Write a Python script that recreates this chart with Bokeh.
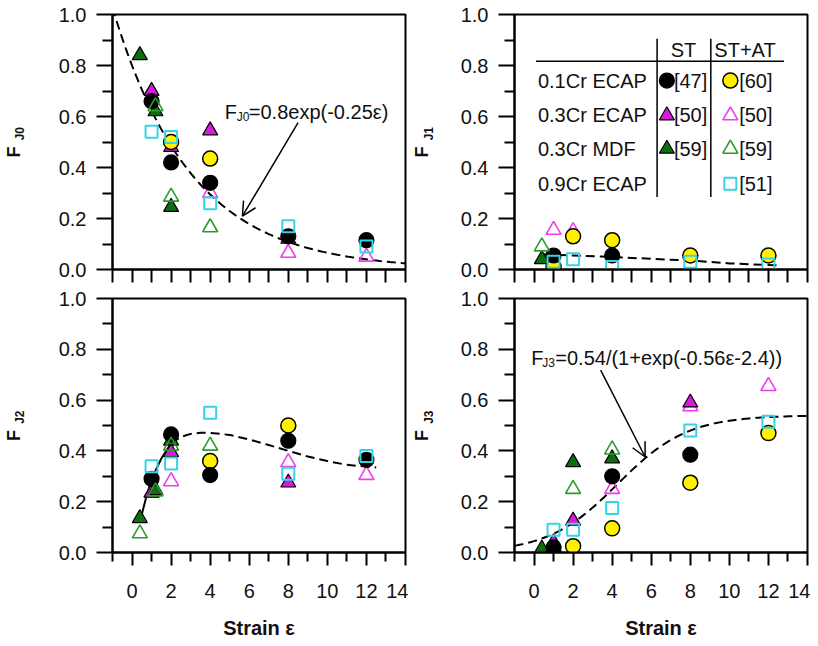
import math
import numpy as np
from bokeh.plotting import figure
from bokeh.layouts import column, row
from bokeh.models import FixedTicker, Label, Arrow, OpenHead, NumeralTickFormatter, LinearAxis
from bokeh.embed import file_html
from bokeh.resources import INLINE

FONT = "Liberation Sans"
NA = float("nan")   # value hidden behind other markers in the reference
NBSP = "\u00a0"

# ---------------- data ----------------
x_ticks = [0, 2, 4, 6, 8, 10, 12, 14]
x_minor = [-1, 1, 3, 5, 7, 9, 11, 13]
y_ticks = [0.0, 0.2, 0.4, 0.6, 0.8, 1.0]
y_minor = [0.1, 0.3, 0.5, 0.7, 0.9]

strain_47 = [1, 2, 4, 8, 12]      # 0.1Cr ECAP ST
strain_60 = [1, 2, 4, 8, 12]      # 0.1Cr ECAP ST+AT
strain_50_st = [1, 2, 4, 8]       # 0.3Cr ECAP ST
strain_50_at = [1, 2, 4, 8, 12]   # 0.3Cr ECAP ST+AT
strain_59 = [0.4, 1.2, 2, 4]      # 0.3Cr MDF
strain_51 = [1, 2, 4, 8, 12]      # 0.9Cr ECAP ST+AT

fj0_47 = [0.66, 0.42, 0.34, 0.13, 0.115]
fj1_47 = [0.055, NA, 0.055, NA, NA]
fj2_47 = [0.29, 0.465, 0.305, 0.44, 0.365]
fj3_47 = [0.02, NA, 0.30, 0.385, NA]

fj0_60 = [NA, 0.50, 0.435, NA, NA]
fj1_60 = [0.01, 0.13, 0.115, 0.055, 0.055]
fj2_60 = [NA, NA, 0.36, 0.50, NA]
fj3_60 = [0.0, 0.025, 0.095, 0.275, 0.47]

fj0_50st = [0.70, 0.48, 0.545, 0.12]
fj1_50st = [NA, NA, NA, NA]
fj2_50st = [0.235, 0.395, NA, 0.275]
fj3_50st = [0.04, 0.125, NA, 0.59]

fj0_50at = [NA, NA, 0.30, 0.065, 0.05]
fj1_50at = [0.155, 0.15, NA, NA, NA]
fj2_50at = [0.235, 0.28, NA, 0.355, 0.305]
fj3_50at = [NA, NA, 0.25, 0.575, 0.655]

fj0_59st = [0.84, 0.62, 0.245, NA]
fj1_59st = [0.04, NA, NA, NA]
fj2_59st = [0.135, 0.245, 0.44, NA]
fj3_59st = [0.015, NA, 0.355, 0.37]

fj0_59at = [NA, 0.64, 0.285, 0.165]
fj1_59at = [0.09, NA, NA, NA]
fj2_59at = [0.075, 0.24, 0.42, 0.42]
fj3_59at = [NA, NA, 0.25, 0.405]

fj0_51 = [0.54, 0.52, 0.26, 0.17, 0.09]
fj1_51 = [0.03, 0.04, 0.01, 0.03, 0.02]
fj2_51 = [0.34, 0.35, 0.55, 0.31, 0.38]
fj3_51 = [0.09, 0.09, 0.175, 0.48, 0.515]

# fit curves
fj0_a, fj0_b = 0.8, 0.25                  # FJ0 = 0.8 exp(-0.25 e)
fj3_a, fj3_k, fj3_c = 0.54, 0.56, 2.4     # FJ3 = 0.54/(1+exp(-0.56 e + 2.4))
fj1_curve_x = [0.5, 1, 2, 4, 6, 8, 10, 12.5]
fj1_curve_y = [0.06, 0.058, 0.055, 0.049, 0.042, 0.035, 0.024, 0.016]
fj2_solid_x = [0.4, 0.7, 1.0, 1.5, 2.0]
fj2_solid_y = [0.12, 0.21, 0.29, 0.37, 0.43]
fj2_dash_x = [2.0, 2.5, 3.0, 3.5, 4.0, 5.0, 6.0, 7.0, 8.0, 9.0, 10.0, 11.0, 12.5]
fj2_dash_y = [0.43, 0.455, 0.467, 0.471, 0.471, 0.463, 0.445, 0.423, 0.40, 0.378, 0.36, 0.345, 0.335]

legend_rows = ["0.1Cr ECAP", "0.3Cr ECAP", "0.3Cr MDF", "0.9Cr ECAP"]
legend_st = ["[47]", "[50]", "[59]", None]
legend_at = ["[60]", "[50]", "[59]", "[51]"]

# ---------------- styles ----------------
MAG_F = "#D81BD8"
MAG_O = "#F03CF0"
GRN_F = "#0E6E0E"
GRN_O = "#2E9A2E"
CYAN = "#36D3E6"
YEL = "#FFF000"
INK = "#111111"

styles = {
    "50at": dict(marker="triangle", fill_color=None, line_color=MAG_O, line_width=1.6, size=15),
    "50st": dict(marker="triangle", fill_color=MAG_F, line_color="black", line_width=1.2, size=15),
    "59st": dict(marker="triangle", fill_color=GRN_F, line_color="black", line_width=1.2, size=15),
    "60": dict(marker="circle", fill_color=YEL, line_color="black", line_width=1.5, size=15),
    "47": dict(marker="circle", fill_color="black", line_color="black", line_width=1.2, size=15),
    "59at": dict(marker="triangle", fill_color=None, line_color=GRN_O, line_width=1.6, size=15),
    "51": dict(marker="square", fill_color=None, line_color=CYAN, line_width=2.0, size=12),
}

series = [
    ("50at", strain_50_at, [fj0_50at, fj1_50at, fj2_50at, fj3_50at]),
    ("50st", strain_50_st, [fj0_50st, fj1_50st, fj2_50st, fj3_50st]),
    ("59st", strain_59, [fj0_59st, fj1_59st, fj2_59st, fj3_59st]),
    ("60", strain_60, [fj0_60, fj1_60, fj2_60, fj3_60]),
    ("47", strain_47, [fj0_47, fj1_47, fj2_47, fj3_47]),
    ("59at", strain_59, [fj0_59at, fj1_59at, fj2_59at, fj3_59at]),
    ("51", strain_51, [fj0_51, fj1_51, fj2_51, fj3_51]),
]


def make_panel(w, h, bl, br, bt, bb, show_x):
    p = figure(width=w, height=h, x_range=(-1, 14), y_range=(0, 1),
               output_backend="svg", toolbar_location=None,
               min_border_left=bl, min_border_right=br,
               min_border_top=bt, min_border_bottom=bb)
    p.grid.visible = False
    p.outline_line_color = "black"
    p.outline_line_width = 2
    p.outline_line_alpha = 1
    p.background_fill_color = "white"
    p.border_fill_color = "white"
    xa = p.xaxis[0]
    xa.major_tick_in = 0
    xa.minor_tick_in = 0
    xa.major_tick_line_width = 2
    xa.minor_tick_line_width = 2
    xa.axis_line_width = 2
    if show_x:
        xa.ticker = FixedTicker(ticks=x_ticks, minor_ticks=x_minor)
        xa.major_tick_out = 13
        xa.minor_tick_out = 9
        xa.major_label_text_font = FONT
        xa.major_label_text_color = INK
        xa.major_label_text_font_size = "20px"
        xa.major_label_standoff = 18
        xa.axis_label = "Strain ε"
        xa.axis_label_text_font = FONT
        xa.axis_label_text_font_style = "bold"
        xa.axis_label_text_font_size = "20px"
        xa.axis_label_text_color = INK
        xa.axis_label_standoff = 16
    else:
        # top row: unlabelled ticks, all the same length
        xa.ticker = FixedTicker(ticks=[], minor_ticks=sorted(x_ticks + x_minor))
        xa.major_tick_out = 0
        xa.minor_tick_out = 13
        xa.major_label_standoff = 0
    ya = p.yaxis[0]
    ya.ticker = FixedTicker(ticks=y_ticks, minor_ticks=y_minor)
    ya.formatter = NumeralTickFormatter(format="0.0")
    ya.major_tick_out = 16
    ya.major_tick_in = 0
    ya.minor_tick_out = 10
    ya.minor_tick_in = 0
    ya.major_tick_line_width = 2
    ya.minor_tick_line_width = 2
    ya.axis_line_width = 2
    ya.major_label_text_font = FONT
    ya.major_label_text_font_size = "20px"
    ya.major_label_text_color = INK
    ya.major_label_standoff = 10
    return p


def add_ylabel(p, sub, s_f, s_j):
    # "F" and its subscript as labels of two invisible extra axes;
    # non-breaking spaces shift them along the axis (F down, subscript up)
    for text, size, standoff in [("F" + NBSP * 4, "18px", s_f),
                                 (NBSP * 5 + sub, "12px", s_j)]:
        ax = LinearAxis(ticker=FixedTicker(ticks=[], minor_ticks=[]),
                        axis_line_color=None, major_tick_line_color=None,
                        minor_tick_line_color=None, major_tick_out=0, minor_tick_out=0,
                        major_tick_in=0, minor_tick_in=0, major_label_standoff=0,
                        axis_label=text, axis_label_text_font=FONT,
                        axis_label_text_font_style="bold", axis_label_text_font_size=size,
                        axis_label_text_color=INK, axis_label_standoff=standoff)
        p.add_layout(ax, "left")


def add_points(p, k):
    for key, xs, vals in series:
        p.scatter(xs, vals[k], **styles[key])


def add_formula(p, x, y, sub, rest, off_sub, off_rest):
    p.add_layout(Label(x=x, y=y, text="F", text_font=FONT, text_font_size="20px",
                       text_baseline="alphabetic", text_color=INK))
    p.add_layout(Label(x=x, y=y, x_offset=off_sub, y_offset=-5, text=sub, text_font=FONT,
                       text_font_size="12px", text_baseline="alphabetic", text_color=INK))
    p.add_layout(Label(x=x, y=y, x_offset=off_rest, text=rest, text_font=FONT,
                       text_font_size="20px", text_baseline="alphabetic", text_color=INK))


DASH = "9 5"
e = np.linspace(-1, 14, 151)

# ---- panel FJ0 ----
p1 = make_panel(408, 284, 110, 3, 14, 15, False)
p1.line(e, fj0_a * np.exp(-fj0_b * e), line_color="black", line_width=2, line_dash=DASH)
add_points(p1, 0)
add_ylabel(p1, "J0", 32, -26)
add_formula(p1, 4.75, 0.616, "J0", "=0.8exp(-0.25ε)", 12, 24)
p1.add_layout(Arrow(x_start=8.5, y_start=0.576, x_end=5.65, y_end=0.209, line_width=1.5,
                    end=OpenHead(size=14, line_width=1.5)))

# ---- panel FJ1 ----
p2 = make_panel(402, 284, 103, 3, 14, 15, False)
p2.line(fj1_curve_x, fj1_curve_y, line_color="black", line_width=2, line_dash=DASH)
add_points(p2, 1)
add_ylabel(p2, "J1", 26, -27)
p2.segment(x0=[6.30, 9.05, 0.10], y0=[0.284, 0.284, 0.817],
           x1=[6.30, 9.05, 12.80], y1=[0.905, 0.905, 0.817], line_color="black", line_width=1.5)
lab_kw = dict(text_font=FONT, text_font_size="20px", text_baseline="middle", text_color=INK)
p2.add_layout(Label(x=7.65, y=0.861, text="ST", text_align="center", **lab_kw))
p2.add_layout(Label(x=10.80, y=0.861, text="ST+AT", text_align="center", **lab_kw))
row_y = [0.741, 0.604, 0.473, 0.336]
st_keys = ["47", "50st", "59st", None]
at_keys = ["60", "50at", "59at", "51"]
for i, name in enumerate(legend_rows):
    p2.add_layout(Label(x=0.20, y=row_y[i], text=name, text_align="left", **lab_kw))
    if legend_st[i] is not None:
        p2.scatter([6.80], [row_y[i]], **styles[st_keys[i]])
        p2.add_layout(Label(x=7.16, y=row_y[i], text=legend_st[i], text_align="left", **lab_kw))
    p2.scatter([10.05], [row_y[i]], **styles[at_keys[i]])
    p2.add_layout(Label(x=10.50, y=row_y[i], text=legend_at[i], text_align="left", **lab_kw))

# ---- panel FJ2 ----
p3 = make_panel(408, 357, 110, 3, 14, 88, True)
p3.line(fj2_solid_x, fj2_solid_y, line_color="black", line_width=2)
p3.line(fj2_dash_x, fj2_dash_y, line_color="black", line_width=2, line_dash=DASH)
add_points(p3, 2)
add_ylabel(p3, "J2", 32, -26)

# ---- panel FJ3 ----
p4 = make_panel(402, 357, 103, 3, 14, 88, True)
p4.line(e, fj3_a / (1 + np.exp(-fj3_k * e + fj3_c)), line_color="black", line_width=2, line_dash=DASH)
add_points(p4, 3)
add_ylabel(p4, "J3", 26, -27)
add_formula(p4, -0.14, 0.765, "J3", "=0.54/(1+exp(-0.56ε-2.4))", 11, 24)
p4.add_layout(Arrow(x_start=3.41, y_start=0.718, x_end=5.69, y_end=0.376, line_width=1.5,
                    end=OpenHead(size=14, line_width=1.5)))

layout = column(row(p1, p2), row(p3, p4))
open("out.html", "w").write(file_html(layout, INLINE))
